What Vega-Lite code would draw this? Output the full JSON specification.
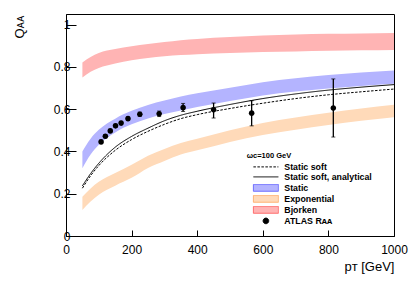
{
  "$schema": "https://vega.github.io/schema/vega-lite/v6.json",
  "width": 328,
  "height": 222,
  "autosize": {"type": "none"},
  "padding": {"left": 66, "top": 14, "right": 21, "bottom": 46},
  "background": "white",
  "config": {
    "view": {"stroke": "black", "strokeWidth": 1},
    "font": "Liberation Sans",
    "axis": {"grid": false, "domainColor": "black", "tickColor": "black", "labelColor": "black", "titleColor": "black", "labelFont": "Liberation Sans", "titleFont": "Liberation Sans", "labelFontSize": 12, "titleFontWeight": "normal", "titleFontSize": 13},
    "legend": {
      "orient": "none",
      "legendX": 180.7,
      "legendY": 138,
      "padding": 0,
      "titleFont": "Liberation Sans",
      "titleFontWeight": "bold",
      "titleFontSize": 7.5,
      "titleColor": "black",
      "titlePadding": 3,
      "labelFont": "Liberation Sans",
      "labelFontWeight": "bold",
      "labelFontSize": 8.8,
      "labelColor": "black",
      "symbolSize": 49,
      "symbolOffset": 14.8,
      "symbolStrokeWidth": 1,
      "symbolOpacity": 1,
      "labelOffset": 14,
      "rowPadding": 0
    }
  },
  "datasets": {
    "bands": [
      {"series": "Bjorken", "pT": 50, "lo": 0.750, "hi": 0.821},
      {"series": "Bjorken", "pT": 75, "lo": 0.777, "hi": 0.847},
      {"series": "Bjorken", "pT": 100, "lo": 0.795, "hi": 0.866},
      {"series": "Bjorken", "pT": 150, "lo": 0.816, "hi": 0.885},
      {"series": "Bjorken", "pT": 200, "lo": 0.831, "hi": 0.897},
      {"series": "Bjorken", "pT": 250, "lo": 0.842, "hi": 0.908},
      {"series": "Bjorken", "pT": 300, "lo": 0.850, "hi": 0.917},
      {"series": "Bjorken", "pT": 350, "lo": 0.856, "hi": 0.926},
      {"series": "Bjorken", "pT": 400, "lo": 0.860, "hi": 0.932},
      {"series": "Bjorken", "pT": 500, "lo": 0.866, "hi": 0.941},
      {"series": "Bjorken", "pT": 600, "lo": 0.870, "hi": 0.948},
      {"series": "Bjorken", "pT": 700, "lo": 0.873, "hi": 0.953},
      {"series": "Bjorken", "pT": 800, "lo": 0.876, "hi": 0.956},
      {"series": "Bjorken", "pT": 900, "lo": 0.878, "hi": 0.958},
      {"series": "Bjorken", "pT": 1000, "lo": 0.880, "hi": 0.960},
      {"series": "Static", "pT": 50, "lo": 0.321, "hi": 0.400},
      {"series": "Static", "pT": 75, "lo": 0.385, "hi": 0.460},
      {"series": "Static", "pT": 100, "lo": 0.431, "hi": 0.502},
      {"series": "Static", "pT": 150, "lo": 0.490, "hi": 0.555},
      {"series": "Static", "pT": 200, "lo": 0.528, "hi": 0.592},
      {"series": "Static", "pT": 250, "lo": 0.556, "hi": 0.620},
      {"series": "Static", "pT": 300, "lo": 0.577, "hi": 0.641},
      {"series": "Static", "pT": 350, "lo": 0.594, "hi": 0.660},
      {"series": "Static", "pT": 400, "lo": 0.610, "hi": 0.675},
      {"series": "Static", "pT": 500, "lo": 0.638, "hi": 0.701},
      {"series": "Static", "pT": 600, "lo": 0.665, "hi": 0.727},
      {"series": "Static", "pT": 700, "lo": 0.683, "hi": 0.746},
      {"series": "Static", "pT": 800, "lo": 0.698, "hi": 0.761},
      {"series": "Static", "pT": 900, "lo": 0.710, "hi": 0.773},
      {"series": "Static", "pT": 1000, "lo": 0.720, "hi": 0.783},
      {"series": "Exponential", "pT": 50, "lo": 0.123, "hi": 0.186},
      {"series": "Exponential", "pT": 75, "lo": 0.163, "hi": 0.225},
      {"series": "Exponential", "pT": 100, "lo": 0.195, "hi": 0.256},
      {"series": "Exponential", "pT": 150, "lo": 0.238, "hi": 0.298},
      {"series": "Exponential", "pT": 200, "lo": 0.275, "hi": 0.337},
      {"series": "Exponential", "pT": 250, "lo": 0.322, "hi": 0.380},
      {"series": "Exponential", "pT": 300, "lo": 0.355, "hi": 0.412},
      {"series": "Exponential", "pT": 350, "lo": 0.385, "hi": 0.440},
      {"series": "Exponential", "pT": 400, "lo": 0.405, "hi": 0.460},
      {"series": "Exponential", "pT": 500, "lo": 0.445, "hi": 0.500},
      {"series": "Exponential", "pT": 600, "lo": 0.478, "hi": 0.535},
      {"series": "Exponential", "pT": 700, "lo": 0.503, "hi": 0.561},
      {"series": "Exponential", "pT": 800, "lo": 0.525, "hi": 0.583},
      {"series": "Exponential", "pT": 900, "lo": 0.545, "hi": 0.603},
      {"series": "Exponential", "pT": 1000, "lo": 0.562, "hi": 0.621}
    ],
    "curves": [
      {"series": "Static soft", "pT": 50, "Q": 0.226},
      {"series": "Static soft", "pT": 75, "Q": 0.285},
      {"series": "Static soft", "pT": 100, "Q": 0.333},
      {"series": "Static soft", "pT": 150, "Q": 0.405},
      {"series": "Static soft", "pT": 200, "Q": 0.456},
      {"series": "Static soft", "pT": 250, "Q": 0.495},
      {"series": "Static soft", "pT": 300, "Q": 0.528},
      {"series": "Static soft", "pT": 350, "Q": 0.555},
      {"series": "Static soft", "pT": 400, "Q": 0.574},
      {"series": "Static soft", "pT": 500, "Q": 0.603},
      {"series": "Static soft", "pT": 600, "Q": 0.628},
      {"series": "Static soft", "pT": 700, "Q": 0.650},
      {"series": "Static soft", "pT": 800, "Q": 0.668},
      {"series": "Static soft", "pT": 900, "Q": 0.682},
      {"series": "Static soft", "pT": 1000, "Q": 0.695},
      {"series": "Static soft, analytical", "pT": 50, "Q": 0.237},
      {"series": "Static soft, analytical", "pT": 75, "Q": 0.295},
      {"series": "Static soft, analytical", "pT": 100, "Q": 0.344},
      {"series": "Static soft, analytical", "pT": 150, "Q": 0.420},
      {"series": "Static soft, analytical", "pT": 200, "Q": 0.471},
      {"series": "Static soft, analytical", "pT": 250, "Q": 0.510},
      {"series": "Static soft, analytical", "pT": 300, "Q": 0.545},
      {"series": "Static soft, analytical", "pT": 350, "Q": 0.571},
      {"series": "Static soft, analytical", "pT": 400, "Q": 0.590},
      {"series": "Static soft, analytical", "pT": 500, "Q": 0.622},
      {"series": "Static soft, analytical", "pT": 600, "Q": 0.650},
      {"series": "Static soft, analytical", "pT": 700, "Q": 0.672},
      {"series": "Static soft, analytical", "pT": 800, "Q": 0.690},
      {"series": "Static soft, analytical", "pT": 900, "Q": 0.704},
      {"series": "Static soft, analytical", "pT": 1000, "Q": 0.716}
    ],
    "atlas": [
      {"series": "ATLAS Rᴀᴀ", "pT": 107, "Q": 0.445, "lo": 0.437, "hi": 0.453},
      {"series": "ATLAS Rᴀᴀ", "pT": 120, "Q": 0.472, "lo": 0.464, "hi": 0.480},
      {"series": "ATLAS Rᴀᴀ", "pT": 135, "Q": 0.497, "lo": 0.489, "hi": 0.505},
      {"series": "ATLAS Rᴀᴀ", "pT": 151, "Q": 0.521, "lo": 0.513, "hi": 0.529},
      {"series": "ATLAS Rᴀᴀ", "pT": 168, "Q": 0.534, "lo": 0.526, "hi": 0.542},
      {"series": "ATLAS Rᴀᴀ", "pT": 189, "Q": 0.555, "lo": 0.547, "hi": 0.563},
      {"series": "ATLAS Rᴀᴀ", "pT": 225, "Q": 0.576, "lo": 0.566, "hi": 0.586},
      {"series": "ATLAS Rᴀᴀ", "pT": 284, "Q": 0.578, "lo": 0.565, "hi": 0.591},
      {"series": "ATLAS Rᴀᴀ", "pT": 357, "Q": 0.607, "lo": 0.589, "hi": 0.627},
      {"series": "ATLAS Rᴀᴀ", "pT": 450, "Q": 0.597, "lo": 0.558, "hi": 0.629},
      {"series": "ATLAS Rᴀᴀ", "pT": 566, "Q": 0.581, "lo": 0.521, "hi": 0.640},
      {"series": "ATLAS Rᴀᴀ", "pT": 815, "Q": 0.605, "lo": 0.468, "hi": 0.743}
    ]
  },
  "layer": [
    {
      "data": {"name": "bands"},
      "mark": {"type": "area", "interpolate": "monotone", "opacity": 1},
      "encoding": {
        "x": {"field": "pT", "type": "quantitative", "scale": {"domain": [0, 1000], "nice": false, "zero": false},
          "axis": {
            "values": [0, 100, 200, 300, 400, 500, 600, 700, 800, 900, 1000],
            "format": "d",
            "labelExpr": "datum.value % 200 === 0 ? datum.label : ''",
            "tickSize": {"condition": {"test": "datum.value % 200 === 0", "value": -6}, "value": -3},
            "labelBaseline": "alphabetic",
            "labelPadding": 23,
            "labelFlush": false,
            "title": "pᴛ [GeV]",
            "titleAnchor": "end",
            "titleAlign": "right",
            "titleBaseline": "alphabetic",
            "titleX": 328,
            "titleY": 34
          }
        },
        "y": {"field": "lo", "type": "quantitative", "scale": {"domain": [0, 1.05], "nice": false},
          "axis": {
            "values": [0, 0.1, 0.2, 0.3, 0.4, 0.5, 0.6, 0.7, 0.8, 0.9, 1.0],
            "labelExpr": "round(datum.value * 10) % 2 === 0 ? format(datum.value, '~g') : ''",
            "tickSize": {"condition": {"test": "round(datum.value * 10) % 2 === 0", "value": -10}, "value": -5},
            "labelPadding": 6,
            "labelFlush": false,
            "title": "Qᴀᴀ",
            "titleAnchor": "end",
            "titleAlign": "right",
            "titleAngle": 270,
            "titleBaseline": "alphabetic",
            "titleX": -43,
            "titleY": 1
          }
        },
        "y2": {"field": "hi"},
        "color": {
          "field": "series", "type": "nominal",
          "scale": {
            "domain": ["Static soft", "Static soft, analytical", "Static", "Exponential", "Bjorken", "ATLAS Rᴀᴀ"],
            "range": ["black", "black", "#b4b4ff", "#ffdab9", "#ffb4b4", "black"]
          },
          "legend": {"title": "ωᴄ=100 GeV"}
        }
      }
    },
    {
      "data": {"name": "curves"},
      "mark": {"type": "line", "interpolate": "monotone", "strokeWidth": 1},
      "encoding": {
        "x": {"field": "pT", "type": "quantitative"},
        "y": {"field": "Q", "type": "quantitative"},
        "stroke": {
          "field": "series", "type": "nominal",
          "scale": {
            "domain": ["Static soft", "Static soft, analytical", "Static", "Exponential", "Bjorken", "ATLAS Rᴀᴀ"],
            "range": ["black", "black", "#6a6aff", "#ffb070", "#ff6a6a", "black"]
          },
          "legend": {"title": "ωᴄ=100 GeV"}
        },
        "strokeDash": {
          "field": "series", "type": "nominal",
          "scale": {
            "domain": ["Static soft", "Static soft, analytical", "Static", "Exponential", "Bjorken", "ATLAS Rᴀᴀ"],
            "range": [[2.5, 1.5], [1, 0], [1, 0], [1, 0], [1, 0], [1, 0]]
          },
          "legend": {"title": "ωᴄ=100 GeV"}
        }
      }
    },
    {
      "data": {"name": "atlas"},
      "mark": {"type": "rule", "color": "black", "strokeWidth": 1.3},
      "encoding": {
        "x": {"field": "pT", "type": "quantitative"},
        "y": {"field": "lo", "type": "quantitative"},
        "y2": {"field": "hi"}
      }
    },
    {
      "data": {"name": "atlas"},
      "transform": [{"fold": ["lo", "hi"], "as": ["end", "val"]}],
      "mark": {"type": "tick", "orient": "horizontal", "color": "black", "size": 4, "thickness": 1},
      "encoding": {
        "x": {"field": "pT", "type": "quantitative"},
        "y": {"field": "val", "type": "quantitative"}
      }
    },
    {
      "data": {"name": "atlas"},
      "mark": {"type": "point", "filled": true, "size": 49, "opacity": 1},
      "encoding": {
        "x": {"field": "pT", "type": "quantitative"},
        "y": {"field": "Q", "type": "quantitative"},
        "color": {"field": "series", "type": "nominal", "legend": {"title": "ωᴄ=100 GeV"}},
        "shape": {
          "field": "series", "type": "nominal",
          "scale": {
            "domain": ["Static soft", "Static soft, analytical", "Static", "Exponential", "Bjorken", "ATLAS Rᴀᴀ"],
            "range": ["M-3.57,0H3.57", "M-3.57,0H3.57", "M-3.57,-0.96H3.57V0.96H-3.57Z", "M-3.57,-0.96H3.57V0.96H-3.57Z", "M-3.57,-0.96H3.57V0.96H-3.57Z", "M-0.8,0A0.8,0.8 0 1,0 0.8,0A0.8,0.8 0 1,0 -0.8,0Z"]
          },
          "legend": {"title": "ωᴄ=100 GeV"}
        }
      }
    }
  ]
}
